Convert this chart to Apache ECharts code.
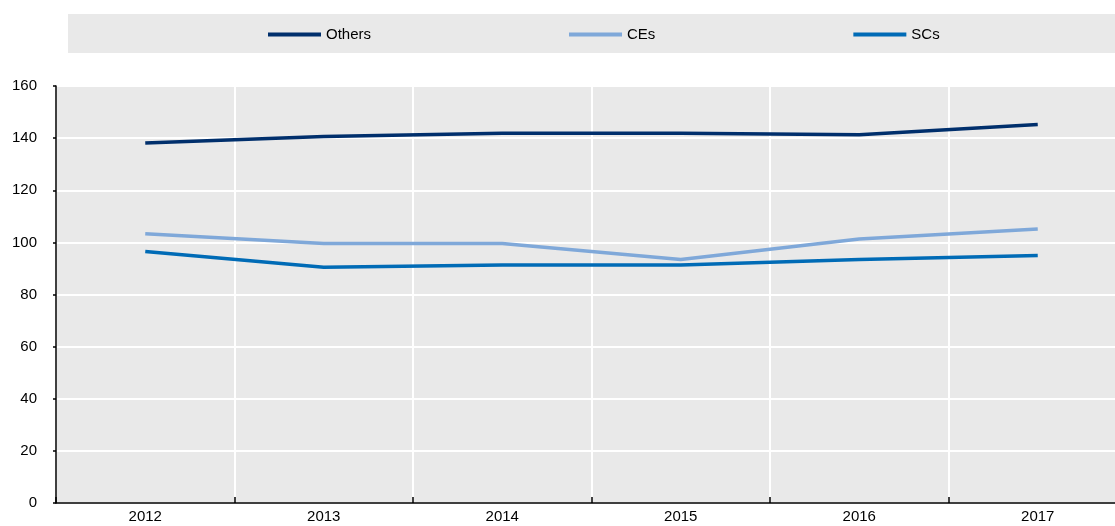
<!DOCTYPE html>
<html>
<head>
<meta charset="utf-8">
<script src="https://cdn.jsdelivr.net/npm/echarts@6/dist/echarts.min.js"></script>
<style>
  html, body { margin: 0; padding: 0; background: #fff; }
  #chart { width: 1115px; height: 526px; }
</style>
</head>
<body>
<div id="chart"></div>
<script>
var years = ['2012', '2013', '2014', '2015', '2016', '2017'];
var others = [138.1, 140.6, 141.9, 141.9, 141.3, 145.2];
var ces = [103.3, 99.6, 99.6, 93.4, 101.3, 105.1];
var scs = [96.5, 90.5, 91.3, 91.3, 93.4, 95.0];
var yTicks = [0, 20, 40, 60, 80, 100, 120, 140, 160];

var chartDom = document.getElementById('chart');
var myChart = echarts.init(chartDom);
var option;

var fontFam = '"Liberation Sans", Arial, sans-serif';

option = {
  animation: false,
  textStyle: { fontFamily: fontFam },
  graphic: [{
    type: 'rect',
    shape: { x: 68, y: 14, width: 1047, height: 39 },
    style: { fill: '#e9e9e9' },
    z: -1
  }],
  legend: {
    top: 27,
    left: 268,
    padding: 0,
    icon: 'rect',
    itemWidth: 53,
    itemHeight: 4,
    itemGap: 198,
    textStyle: { fontSize: 15, color: '#000', fontFamily: fontFam },
    data: ['Others', 'CEs', 'SCs']
  },
  grid: {
    left: 56,
    right: -12,
    top: 86,
    bottom: 23,
    outerBoundsMode: 'none',
    containLabel: false,
    show: true,
    backgroundColor: '#e9e9e9',
    borderWidth: 0
  },
  xAxis: {
    type: 'category',
    data: years,
    boundaryGap: true,
    axisLine: { lineStyle: { color: '#000', width: 1.5 } },
    axisTick: { show: true, inside: true, length: 6, lineStyle: { color: '#000', width: 1.5 } },
    axisLabel: { color: '#000', fontSize: 15, margin: 6 },
    splitLine: { show: true, lineStyle: { color: '#fff', width: 2 } }
  },
  yAxis: {
    type: 'value',
    min: yTicks[0],
    max: yTicks[yTicks.length - 1],
    interval: 20,
    axisLine: { show: true, lineStyle: { color: '#000', width: 1.5 } },
    axisTick: { show: true, length: 3, lineStyle: { color: '#000', width: 1.5 } },
    axisLabel: { color: '#000', fontSize: 15, margin: 19 },
    splitLine: { show: true, lineStyle: { color: '#fff', width: 2 } }
  },
  series: [
    {
      name: 'Others',
      type: 'line',
      data: others,
      symbol: 'none',
      lineStyle: { color: '#002f6c', width: 3.5 },
      itemStyle: { color: '#002f6c' }
    },
    {
      name: 'CEs',
      type: 'line',
      data: ces,
      symbol: 'none',
      lineStyle: { color: '#7fa8d9', width: 3.5 },
      itemStyle: { color: '#7fa8d9' }
    },
    {
      name: 'SCs',
      type: 'line',
      data: scs,
      symbol: 'none',
      lineStyle: { color: '#006bb6', width: 3.5 },
      itemStyle: { color: '#006bb6' }
    }
  ]
};
myChart.setOption(option);
</script>
</body>
</html>
